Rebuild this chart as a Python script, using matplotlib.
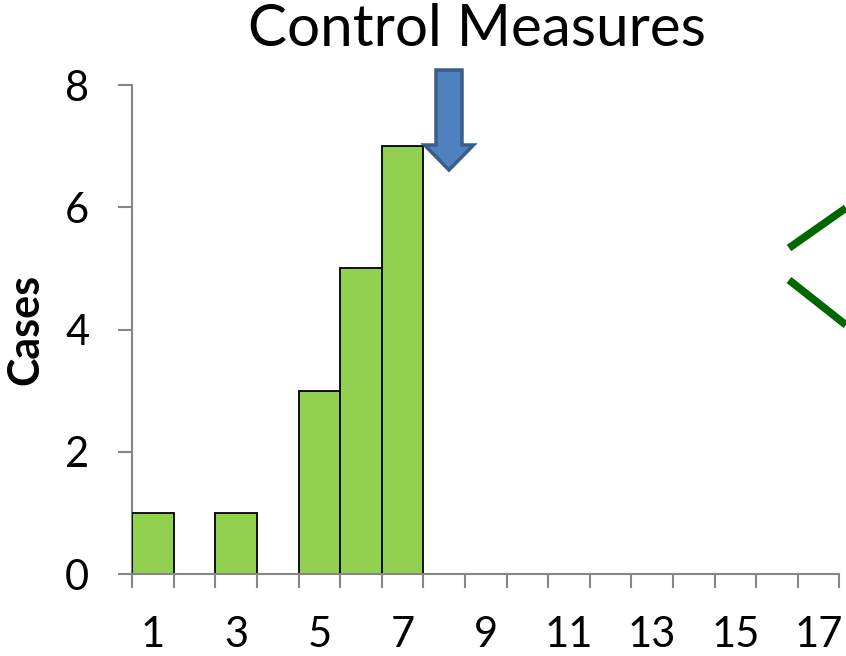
import numpy as np
import matplotlib
matplotlib.use('Agg')
import matplotlib.pyplot as plt
from matplotlib.patches import FancyArrow
from matplotlib.lines import Line2D

plt.rcParams['font.family'] = ['Lato', 'DejaVu Sans']

# data
days = np.arange(1, 18)
cases = [1, 0, 1, 0, 3, 5, 7, 0, 0, 0, 0, 0, 0, 0, 0, 0, 0]
tick_labels = [str(d) for d in days if d % 2 == 1]
title = 'Control Measures'

fig = plt.figure(figsize=(8.46, 6.56), dpi=100)
ax = fig.add_axes([0.1564, 0.125, 0.8357, 0.7454])

ax.bar(days, cases, width=1.0, color='#92D050', edgecolor='black', linewidth=1.3, zorder=3)

ax.set_xlim(0.5, 17.5)
ax.set_ylim(0, 8)

grey = '#868686'
for s in ['top', 'right']:
    ax.spines[s].set_visible(False)
for s in ['left', 'bottom']:
    ax.spines[s].set_color(grey)
    ax.spines[s].set_linewidth(1.5)
ax.spines['bottom'].set_zorder(4)

# ticks on category boundaries, labels on odd days
ax.set_xticks(np.arange(0.5, 18, 1))
ax.set_xticklabels([])
ax.set_xticks([d for d in days if d % 2 == 1], minor=True)
ax.set_xticklabels(tick_labels, minor=True)
ax.tick_params(axis='x', which='major', length=10, width=1.5, color=grey)
ax.tick_params(axis='x', which='minor', length=0, pad=30, labelsize=30)

ax.set_yticks([0, 2, 4, 6, 8])
ax.tick_params(axis='y', length=10, width=1.5, color=grey, pad=21, labelsize=30)

ax.set_ylabel('Cases', fontsize=31, fontweight='bold', labelpad=14)
fig.text(0.564, 0.955, title, fontsize=42, ha='center', va='center')

# block arrow (control measures)
arr = FancyArrow(449 / 846, 1 - 70 / 656, 0, -(170 - 70) / 656, width=26 / 846,
                 head_width=49 / 846, head_length=25 / 656, length_includes_head=True,
                 transform=fig.transFigure, facecolor='#4F81BD', edgecolor='#385D8A',
                 linewidth=2.5, zorder=10)
fig.patches.append(arr)

# green bracket lines at the right edge
for xs, ys in [([789, 846], [248, 208]), ([789, 846], [280, 325])]:
    fig.lines.append(Line2D([x / 846 for x in xs], [1 - y / 656 for y in ys],
                            transform=fig.transFigure, color='#006600', linewidth=5.5,
                            solid_capstyle='butt'))

fig.savefig('out.png', dpi=100)
